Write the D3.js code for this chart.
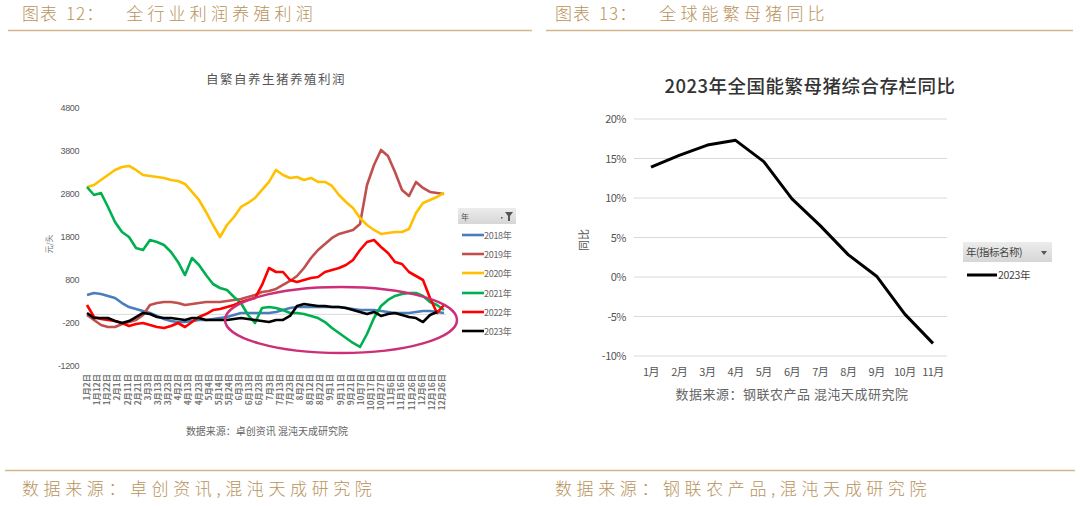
<!DOCTYPE html>
<html><head><meta charset="utf-8">
<script src="https://cdn.jsdelivr.net/npm/d3@7"></script>
<style>
body{margin:0;background:#fff;}
svg{display:block;font-family:"Noto Sans CJK SC","Noto Sans",sans-serif;}
</style></head><body>
<svg id="c" width="1080" height="506"></svg>
<script>
// ---------- Left chart data (weekly readings, 元/头) ----------
const leftTicks = [4800, 3800, 2800, 1800, 800, -200, -1200];
const dateLabels = ["1月2日","1月12日","1月22日","2月1日","2月11日","2月21日","3月3日","3月13日","3月23日","4月2日","4月13日","4月23日","5月4日","5月14日","5月24日","6月3日","6月13日","6月23日","7月3日","7月13日","7月23日","8月2日","8月12日","8月22日","9月1日","9月11日","9月21日","10月7日","10月17日","10月27日","11月6日","11月16日","11月26日","12月6日","12月16日","12月26日"];
const yearNames = ["2018年","2019年","2020年","2021年","2022年","2023年"];
const y2018 = [451,498,474,428,381,265,172,126,79,33,-37,-107,-154,-177,-177,-154,-130,-130,-107,-84,-61,-14,33,33,33,33,33,56,102,149,172,172,172,172,172,172,172,149,126,102,102,102,79,56,33,33,33,56,79,79,56,33];
const y2019 = [-14,-130,-247,-293,-293,-223,-177,-130,-14,219,265,288,288,265,219,242,265,288,288,288,312,335,358,405,451,521,544,591,684,777,893,1079,1312,1498,1638,1777,1870,1917,1963,2103,3010,3475,3824,3684,3312,2894,2754,3080,2940,2847,2824,2800];
const y2020 = [2963,3010,3126,3242,3359,3429,3452,3359,3242,3219,3196,3173,3126,3103,3033,2847,2661,2382,2079,1800,2079,2265,2498,2591,2707,2894,3080,3359,3242,3173,3196,3126,3173,3080,3080,2987,2777,2614,2475,2242,2079,1963,1870,1893,1917,1917,1986,2359,2591,2661,2731,2824];
const y2021 = [2963,2777,2824,2498,2149,1917,1800,1545,1498,1731,1684,1614,1452,1219,916,1312,1149,916,707,614,567,405,265,-14,-200,149,172,149,102,33,33,9,-37,-84,-177,-316,-433,-549,-665,-758,-456,-84,195,335,428,474,498,498,428,288,219,102];
const y2022 = [219,-61,-107,-130,-154,-200,-270,-223,-200,-247,-293,-316,-270,-200,-293,-177,-61,9,102,126,172,219,288,335,381,684,1079,986,986,800,754,800,847,870,986,1033,1079,1149,1265,1498,1684,1731,1568,1428,1219,1172,986,893,800,381,33,219];
const y2023 = [33,-84,-84,-84,-154,-200,-154,-61,33,9,-61,-84,-84,-107,-130,-84,-84,-130,-130,-130,-130,-107,-84,-107,-130,-154,-177,-130,-130,-37,195,242,219,195,195,172,172,149,102,56,9,56,-37,9,33,-14,-61,-84,-177,-14,56];
const yearColors = ["#4a7ebb","#c0504d","#ffc000","#00b050","#ff0000","#000000"];

// ---------- Right chart data (同比, %) ----------
const months = ["1月","2月","3月","4月","5月","6月","7月","8月","9月","10月","11月"];
const yoy2023 = [13.9,15.4,16.7,17.3,14.6,9.9,6.5,2.8,0.1,-4.7,-8.4];
const rightTicks = [20,15,10,5,0,-5,-10];

const svg = d3.select("#c");
const gold = "#b8925c";

// ---------- Headers & footers ----------
function header(x, num, text){
  const t = svg.append("text").attr("x", x).attr("y", 20).attr("fill", gold)
    .attr("font-size", 17).attr("font-weight", 300);
  t.append("tspan").text("图表").attr("letter-spacing", 1);
  t.append("tspan").attr("dx", 8).attr("letter-spacing", 1).text(num + "：");
  t.append("tspan").attr("dx", 22).attr("letter-spacing", 4.2).text(text);
}
header(22, "12", "全行业利润养殖利润");
header(555, "13", "全球能繁母猪同比");
svg.append("line").attr("x1", 8).attr("x2", 532).attr("y1", 30.5).attr("y2", 30.5).attr("stroke", "#d2b78e").attr("stroke-width", 1.5);
svg.append("line").attr("x1", 546).attr("x2", 1073).attr("y1", 30.5).attr("y2", 30.5).attr("stroke", "#d2b78e").attr("stroke-width", 1.5);
svg.append("line").attr("x1", 5).attr("x2", 1075).attr("y1", 470.5).attr("y2", 470.5).attr("stroke", "#d2b78e").attr("stroke-width", 1.5);
svg.append("text").attr("x", 22).attr("y", 495).attr("fill", gold).attr("font-size", 17).attr("font-weight", 300).attr("letter-spacing", 4.6).text("数据来源：卓创资讯,混沌天成研究院");
svg.append("text").attr("x", 555).attr("y", 495).attr("fill", gold).attr("font-size", 17).attr("font-weight", 300).attr("letter-spacing", 4.6).text("数据来源：钢联农产品,混沌天成研究院");

// ---------- Left chart ----------
const L = svg.append("g");
const xL = d3.scaleLinear().domain([0, 51]).range([87, 444]);
const yL = d3.scaleLinear().domain([-1200, 4800]).range([366, 108]);
const xLab = d3.scalePoint().domain(dateLabels).range([87, 442]);

L.append("text").attr("x", 276).attr("y", 84).attr("text-anchor", "middle").attr("font-size", 12.5)
  .attr("fill", "#555").attr("letter-spacing", 1.5).text("自繁自养生猪养殖利润");

L.selectAll(".yt").data(leftTicks).join("text").attr("class", "yt")
  .attr("x", 79).attr("y", d => yL(d) + 3).attr("text-anchor", "end")
  .attr("font-family", "Liberation Sans, Arial, sans-serif").attr("font-size", 9).attr("letter-spacing", -0.4)
  .attr("fill", "#595959").text(d => d);

L.append("text").attr("transform", "translate(52,244) rotate(-90)").attr("text-anchor", "middle")
  .attr("font-size", 8).attr("fill", "#777").text("元/头");

L.append("line").attr("x1", 87).attr("x2", 446).attr("y1", yL(0)).attr("y2", yL(0))
  .attr("stroke", "#d9d9d9").attr("stroke-width", 1);

L.selectAll(".xl").data(dateLabels).join("text").attr("class", "xl")
  .attr("transform", d => `translate(${xLab(d) + 3},374) rotate(-90)`)
  .attr("text-anchor", "end").attr("font-size", 8.3).attr("font-weight", 700).attr("fill", "#777").text(d => d);

const leftSeries = [y2018, y2019, y2020, y2021, y2022, y2023];
const lineL = d3.line().x((d, i) => xL(i)).y(d => yL(d)).curve(d3.curveLinear);
leftSeries.forEach((s, k) => {
  L.append("path").datum(s).attr("d", lineL).attr("fill", "none")
    .attr("stroke", yearColors[k]).attr("stroke-width", 2.6).attr("stroke-linejoin", "round");
});

// ellipse annotation
L.append("ellipse").attr("cx", 341).attr("cy", 320).attr("rx", 116).attr("ry", 33)
  .attr("fill", "none").attr("stroke", "#cc2f78").attr("stroke-width", 2.5);

// legend
const lg = L.append("g");
const grad = svg.append("defs").append("linearGradient").attr("id", "hg").attr("x1", 0).attr("x2", 0).attr("y1", 0).attr("y2", 1);
grad.append("stop").attr("offset", 0).attr("stop-color", "#ececec");
grad.append("stop").attr("offset", 1).attr("stop-color", "#d6d6d6");
lg.append("rect").attr("x", 458).attr("y", 208).attr("width", 58).attr("height", 16).attr("fill", "url(#hg)");
lg.append("text").attr("x", 461).attr("y", 220).attr("font-size", 8).attr("fill", "#555").text("年");
lg.append("path").attr("d", "M505,212 L513,212 L510,216 L510,221 L508,221 L508,216 Z").attr("fill", "#555");
lg.append("rect").attr("x", 501).attr("y", 217).attr("width", 1.5).attr("height", 1.5).attr("fill", "#555");
const legY = [235, 254, 273, 293, 312, 331];
yearNames.forEach((n, k) => {
  lg.append("line").attr("x1", 462).attr("x2", 484).attr("y1", legY[k]).attr("y2", legY[k])
    .attr("stroke", yearColors[k]).attr("stroke-width", 2.6);
  lg.append("text").attr("x", 484).attr("y", legY[k] + 3.5).attr("font-size", 9).attr("letter-spacing", -0.3)
    .attr("fill", "#666").text(n);
});

L.append("text").attr("x", 267).attr("y", 435).attr("text-anchor", "middle").attr("font-size", 10)
  .attr("fill", "#666").text("数据来源：卓创资讯 混沌天成研究院");

// ---------- Right chart ----------
const R = svg.append("g");
const xR = d3.scalePoint().domain(months).range([651, 933]);
const yR = d3.scaleLinear().domain([-10, 20]).range([356, 119]);

R.append("text").attr("x", 810).attr("y", 93).attr("text-anchor", "middle").attr("font-size", 18.5)
  .attr("font-weight", 500).attr("fill", "#333").attr("letter-spacing", 0.5).text("2023年全国能繁母猪综合存栏同比");

R.selectAll(".g").data(rightTicks).join("line").attr("class", "g")
  .attr("x1", 634).attr("x2", 947).attr("y1", d => yR(d)).attr("y2", d => yR(d))
  .attr("stroke", "#d9d9d9").attr("stroke-width", 1.2);

R.selectAll(".yt").data(rightTicks).join("text").attr("class", "yt")
  .attr("x", 626).attr("y", d => yR(d) + 4).attr("text-anchor", "end")
  .attr("font-size", 11).attr("fill", "#555").attr("letter-spacing", -0.5).text(d => d + "%");

R.selectAll(".xt").data(months).join("text").attr("class", "xt")
  .attr("x", d => xR(d)).attr("y", 376).attr("text-anchor", "middle")
  .attr("font-size", 11).attr("fill", "#555").attr("letter-spacing", -0.5).text(d => d);

R.append("text").attr("transform", "translate(588,240) rotate(-90)").attr("text-anchor", "middle")
  .attr("font-size", 11).attr("fill", "#555").text("同比");

R.append("path").datum(yoy2023)
  .attr("d", d3.line().x((d, i) => xR(months[i])).y(d => yR(d)))
  .attr("fill", "none").attr("stroke", "#000").attr("stroke-width", 3).attr("stroke-linejoin", "round");

R.append("rect").attr("x", 963).attr("y", 242).attr("width", 89).attr("height", 20).attr("fill", "url(#hg)");
R.append("text").attr("x", 966).attr("y", 256).attr("font-size", 10.5).attr("fill", "#444").attr("letter-spacing", -0.5).text("年(指标名称)");
R.append("path").attr("d", "M1041,251 L1047,251 L1044,255 Z").attr("fill", "#555");
R.append("line").attr("x1", 967).attr("x2", 997).attr("y1", 275).attr("y2", 275).attr("stroke", "#000").attr("stroke-width", 3);
R.append("text").attr("x", 998).attr("y", 279).attr("font-size", 10.5).attr("fill", "#444").attr("letter-spacing", -0.3).text("2023年");

R.append("text").attr("x", 792).attr("y", 399).attr("text-anchor", "middle").attr("font-size", 13)
  .attr("fill", "#666").attr("letter-spacing", 0.5).text("数据来源：钢联农产品 混沌天成研究院");
</script>
</body></html>
